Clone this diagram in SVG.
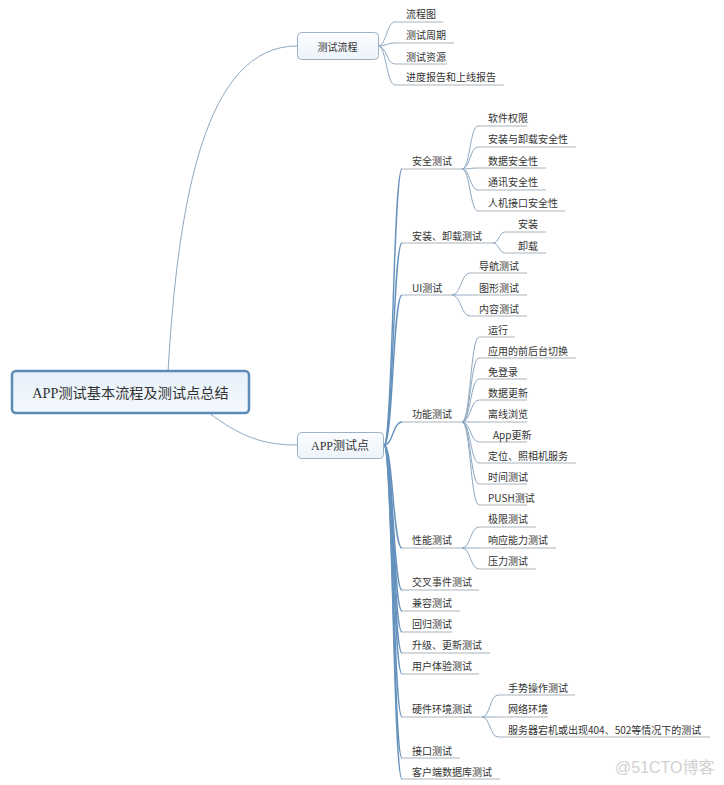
<svg xmlns="http://www.w3.org/2000/svg" width="724" height="785" viewBox="0 0 724 785">
<defs>
<linearGradient id="gRoot" x1="0" y1="0" x2="0" y2="1"><stop offset="0" stop-color="#e6f0f9"/><stop offset="1" stop-color="#f3f8fd"/></linearGradient>
<linearGradient id="gBox" x1="0" y1="0" x2="0" y2="1"><stop offset="0" stop-color="#fbfdff"/><stop offset="1" stop-color="#edf3f9"/></linearGradient>
<style>
.t{font-family:"Noto Sans CJK SC","Liberation Sans",sans-serif;font-size:10px;fill:#333}
.ts{font-family:"Liberation Serif","Noto Sans CJK SC",serif;fill:#333}
.ul{stroke:#a9b3bd;stroke-width:1;fill:none}
.c{stroke:#8fa8c0;stroke-width:1;fill:none}
.tr{stroke:#6592bd;stroke-width:1.4;fill:none}
.box{fill:url(#gBox);stroke:#9db1c4;stroke-width:1}
</style>
</defs>
<rect width="724" height="785" fill="#ffffff"/>
<g id="connectors">
<path class="c" d="M168 372 C178 200 205 46 297 46"/>
<path class="c" d="M209 413 C240 436 262 445 297 445"/>
<path class="c" d="M378 46 C386.5 46 386.5 22 395 22"/>
<path class="c" d="M378 46 C386.5 46 386.5 43 395 43"/>
<path class="c" d="M378 46 C386.5 46 386.5 64 395 64"/>
<path class="c" d="M378 46 C386.5 46 386.5 85 395 85"/>
<path class="tr" d="M384 445 C393 445 393 169 402 169"/>
<path class="tr" d="M384 445 C393 445 393 243 402 243"/>
<path class="tr" d="M384 445 C393 445 393 295 402 295"/>
<path class="tr" d="M384 445 C393 445 393 422 402 422"/>
<path class="tr" d="M384 445 C393 445 393 548 402 548"/>
<path class="tr" d="M384 445 C393 445 393 590 402 590"/>
<path class="tr" d="M384 445 C393 445 393 611 402 611"/>
<path class="tr" d="M384 445 C393 445 393 632 402 632"/>
<path class="tr" d="M384 445 C393 445 393 653 402 653"/>
<path class="tr" d="M384 445 C393 445 393 674 402 674"/>
<path class="tr" d="M384 445 C393 445 393 717 402 717"/>
<path class="tr" d="M384 445 C393 445 393 758 402 758"/>
<path class="tr" d="M384 445 C393 445 393 779 402 779"/>
<path class="c" d="M462 169 C470 169 470 126 478 126"/>
<path class="c" d="M462 169 C470 169 470 147 478 147"/>
<path class="c" d="M462 169 C470 169 470 168 478 168"/>
<path class="c" d="M462 169 C470 169 470 190 478 190"/>
<path class="c" d="M462 169 C470 169 470 211 478 211"/>
<path class="c" d="M493 243 C499 243 499 232 505 232"/>
<path class="c" d="M493 243 C499 243 499 253 505 253"/>
<path class="c" d="M452 295 C461 295 461 273 470 273"/>
<path class="c" d="M452 295 C461 295 461 295 470 295"/>
<path class="c" d="M452 295 C461 295 461 316 470 316"/>
<path class="c" d="M462 422 C470.5 422 470.5 337 479 337"/>
<path class="c" d="M462 422 C470.5 422 470.5 358 479 358"/>
<path class="c" d="M462 422 C470.5 422 470.5 379 479 379"/>
<path class="c" d="M462 422 C470.5 422 470.5 400 479 400"/>
<path class="c" d="M462 422 C470.5 422 470.5 422 479 422"/>
<path class="c" d="M462 422 C470.5 422 470.5 442 479 442"/>
<path class="c" d="M462 422 C470.5 422 470.5 463 479 463"/>
<path class="c" d="M462 422 C470.5 422 470.5 484 479 484"/>
<path class="c" d="M462 422 C470.5 422 470.5 505 479 505"/>
<path class="c" d="M462 548 C470.5 548 470.5 527 479 527"/>
<path class="c" d="M462 548 C470.5 548 470.5 548 479 548"/>
<path class="c" d="M462 548 C470.5 548 470.5 569 479 569"/>
<path class="c" d="M482 717 C490 717 490 695 498 695"/>
<path class="c" d="M482 717 C490 717 490 717 498 717"/>
<path class="c" d="M482 717 C490 717 490 737 498 737"/>
</g>
<g id="root">
<rect x="12" y="371" width="237" height="42" rx="4" fill="url(#gRoot)" stroke="#5b8cb7" stroke-width="2.5"/>
<text class="ts" x="130.5" y="397.5" font-size="14.2" text-anchor="middle">APP测试基本流程及测试点总结</text>
</g>
<g id="n-flow">
<rect class="box" x="297.5" y="32.5" width="81" height="27" rx="4"/>
<text class="t" x="337.5" y="50.5" font-size="12.5" text-anchor="middle">测试流程</text>
</g>
<g id="n-flow-1"><line class="ul" x1="395" y1="22" x2="443" y2="22"/><text class="t" x="406" y="18">流程图</text></g>
<g id="n-flow-2"><line class="ul" x1="395" y1="43" x2="454" y2="43"/><text class="t" x="406" y="39">测试周期</text></g>
<g id="n-flow-3"><line class="ul" x1="395" y1="64" x2="447" y2="64"/><text class="t" x="406" y="61">测试资源</text></g>
<g id="n-flow-4"><line class="ul" x1="395" y1="85" x2="504" y2="85"/><text class="t" x="406" y="81">进度报告和上线报告</text></g>
<g id="n-points">
<rect class="box" x="297.5" y="432.5" width="86" height="26" rx="4"/>
<text class="ts" x="340" y="450" font-size="12" text-anchor="middle">APP测试点</text>
</g>
<g id="n-sec"><line class="ul" x1="402" y1="169" x2="462" y2="169"/><text class="t" x="412" y="165">安全测试</text></g>
<g id="n-sec-1"><line class="ul" x1="478" y1="126" x2="527" y2="126"/><text class="t" x="488" y="122">软件权限</text></g>
<g id="n-sec-2"><line class="ul" x1="478" y1="147" x2="576" y2="147"/><text class="t" x="488" y="143">安装与卸载安全性</text></g>
<g id="n-sec-3"><line class="ul" x1="478" y1="168" x2="546" y2="168"/><text class="t" x="488" y="165">数据安全性</text></g>
<g id="n-sec-4"><line class="ul" x1="478" y1="190" x2="546" y2="190"/><text class="t" x="488" y="186">通讯安全性</text></g>
<g id="n-sec-5"><line class="ul" x1="478" y1="211" x2="565" y2="211"/><text class="t" x="488" y="207">人机接口安全性</text></g>
<g id="n-inst"><line class="ul" x1="402" y1="243" x2="493" y2="243"/><text class="t" x="412" y="240">安装、卸载测试</text></g>
<g id="n-inst-1"><line class="ul" x1="505" y1="232" x2="546" y2="232"/><text class="t" x="518" y="228">安装</text></g>
<g id="n-inst-2"><line class="ul" x1="505" y1="253" x2="546" y2="253"/><text class="t" x="518" y="250">卸载</text></g>
<g id="n-ui"><line class="ul" x1="402" y1="295" x2="452" y2="295"/><text class="t" x="412" y="292">UI测试</text></g>
<g id="n-ui-1"><line class="ul" x1="470" y1="273" x2="527" y2="273"/><text class="t" x="479" y="270">导航测试</text></g>
<g id="n-ui-2"><line class="ul" x1="470" y1="295" x2="527" y2="295"/><text class="t" x="479" y="292">图形测试</text></g>
<g id="n-ui-3"><line class="ul" x1="470" y1="316" x2="527" y2="316"/><text class="t" x="479" y="313">内容测试</text></g>
<g id="n-func"><line class="ul" x1="402" y1="422" x2="462" y2="422"/><text class="t" x="412" y="418">功能测试</text></g>
<g id="n-func-1"><line class="ul" x1="479" y1="337" x2="515" y2="337"/><text class="t" x="488" y="334">运行</text></g>
<g id="n-func-2"><line class="ul" x1="479" y1="358" x2="576" y2="358"/><text class="t" x="488" y="355">应用的前后台切换</text></g>
<g id="n-func-3"><line class="ul" x1="479" y1="379" x2="527" y2="379"/><text class="t" x="488" y="376">免登录</text></g>
<g id="n-func-4"><line class="ul" x1="479" y1="400" x2="527" y2="400"/><text class="t" x="488" y="397">数据更新</text></g>
<g id="n-func-5"><line class="ul" x1="479" y1="422" x2="527" y2="422"/><text class="t" x="488" y="418">离线浏览</text></g>
<g id="n-func-6"><line class="ul" x1="479" y1="442" x2="527" y2="442"/><text class="t" x="493" y="439">App更新</text></g>
<g id="n-func-7"><line class="ul" x1="479" y1="463" x2="576" y2="463"/><text class="t" x="488" y="460">定位、照相机服务</text></g>
<g id="n-func-8"><line class="ul" x1="479" y1="484" x2="527" y2="484"/><text class="t" x="488" y="481">时间测试</text></g>
<g id="n-func-9"><line class="ul" x1="479" y1="505" x2="527" y2="505"/><text class="t" x="488" y="502">PUSH测试</text></g>
<g id="n-perf"><line class="ul" x1="402" y1="548" x2="462" y2="548"/><text class="t" x="412" y="544">性能测试</text></g>
<g id="n-perf-1"><line class="ul" x1="479" y1="527" x2="536" y2="527"/><text class="t" x="488" y="523">极限测试</text></g>
<g id="n-perf-2"><line class="ul" x1="479" y1="548" x2="556" y2="548"/><text class="t" x="488" y="544">响应能力测试</text></g>
<g id="n-perf-3"><line class="ul" x1="479" y1="569" x2="536" y2="569"/><text class="t" x="488" y="565">压力测试</text></g>
<g id="n-cross"><line class="ul" x1="402" y1="590" x2="479" y2="590"/><text class="t" x="412" y="586">交叉事件测试</text></g>
<g id="n-compat"><line class="ul" x1="402" y1="611" x2="460" y2="611"/><text class="t" x="412" y="607">兼容测试</text></g>
<g id="n-regr"><line class="ul" x1="402" y1="632" x2="452" y2="632"/><text class="t" x="412" y="628">回归测试</text></g>
<g id="n-upg"><line class="ul" x1="402" y1="653" x2="490" y2="653"/><text class="t" x="412" y="649">升级、更新测试</text></g>
<g id="n-ux"><line class="ul" x1="402" y1="674" x2="479" y2="674"/><text class="t" x="412" y="670">用户体验测试</text></g>
<g id="n-hw"><line class="ul" x1="402" y1="717" x2="482" y2="717"/><text class="t" x="412" y="713">硬件环境测试</text></g>
<g id="n-hw-1"><line class="ul" x1="498" y1="695" x2="575" y2="695"/><text class="t" x="508" y="692">手势操作测试</text></g>
<g id="n-hw-2"><line class="ul" x1="498" y1="717" x2="548" y2="717"/><text class="t" x="508" y="713">网络环境</text></g>
<g id="n-hw-3"><line class="ul" x1="498" y1="737" x2="710" y2="737"/><text class="t" x="508" y="734">服务器宕机或出现404、502等情况下的测试</text></g>
<g id="n-api"><line class="ul" x1="402" y1="758" x2="460" y2="758"/><text class="t" x="412" y="755">接口测试</text></g>
<g id="n-db"><line class="ul" x1="402" y1="779" x2="500" y2="779"/><text class="t" x="412" y="776">客户端数据库测试</text></g>
<text x="615" y="773" font-family="'Liberation Sans','Noto Sans CJK SC',sans-serif" font-size="16" fill="#d0d0d0">@51CTO博客</text>
</svg>
